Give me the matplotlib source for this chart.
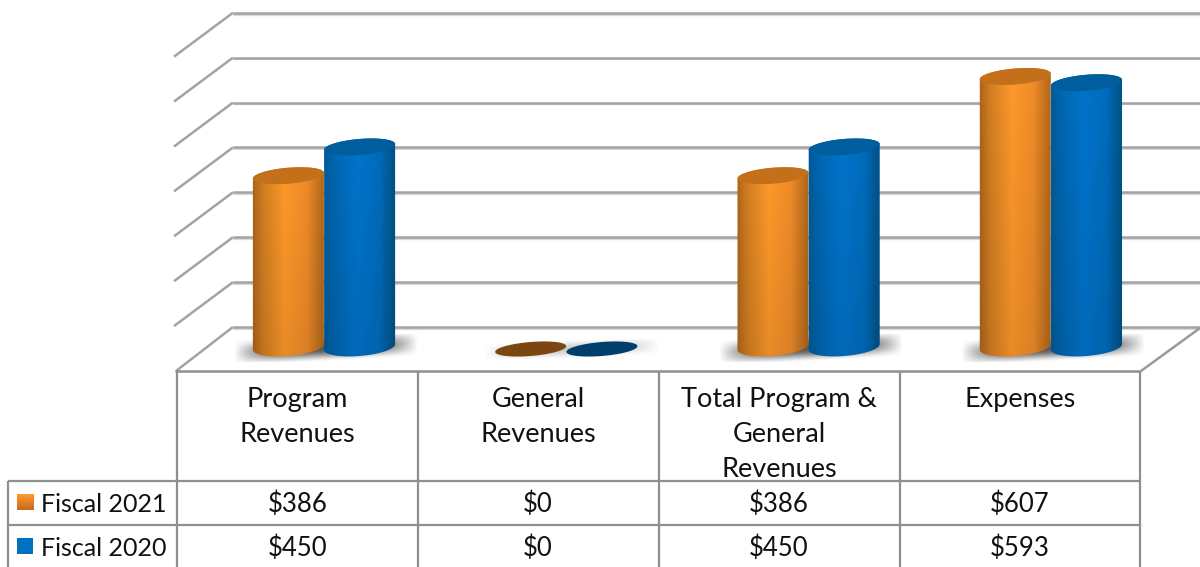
import matplotlib

matplotlib.use('Agg')

import matplotlib.pyplot as plt
import numpy as np
from matplotlib.colors import to_rgb
from matplotlib.patches import PathPatch, Polygon, Rectangle
from matplotlib.path import Path
from matplotlib.transforms import Affine2D, IdentityTransform

categories = ["Program\nRevenues", "General\nRevenues",
              "Total Program &\nGeneral\nRevenues", "Expenses"]
series_names = ["Fiscal 2021", "Fiscal 2020"]
fiscal_2021 = [386, 0, 386, 607]
fiscal_2020 = [450, 0, 450, 593]
table_2021 = ["$386", "$0", "$386", "$607"]
table_2020 = ["$450", "$0", "$450", "$593"]
grid_values = [0, 100, 200, 300, 400, 500, 600, 700]

W, H = 1200, 567
FONT = "Lato"
FS_HEAD = 19.5
FS_CELL = 18.5
FS_ROW = 18.0

fig = plt.figure(figsize=(W / 100, H / 100), dpi=100)
ax = fig.add_axes([0, 0, 1, 1])


def set_scales():
    # 0 sits at 349 px from the top, one category is 242.3 px wide
    ax.set_xlim(-324 / 242.3, (W - 324) / 242.3)
    ax.set_ylim((349 - H) / 0.449, 349 / 0.449)


set_scales()
ax.axis("off")

# y-down pixel coordinates for the frame, the table and the text
px = Affine2D().scale(1, -1).translate(0, H)
disp = IdentityTransform()


def line(xs, ys, color="#a3a3a3", lw=1.8, z=2):
    ax.plot(xs, ys, color=color, lw=lw, transform=px, solid_capstyle="butt",
            clip_on=False, zorder=z)


def ramp(stops, n=160):
    pos = [s[0] for s in stops]
    cols = np.array([to_rgb(s[1]) for s in stops])
    t = np.linspace(0, 1, n)
    return np.stack([np.interp(t, pos, cols[:, k]) for k in range(3)], axis=1)


ORANGE = [(0, "#ab6219"), (0.14, "#cf7d21"), (0.45, "#ff992a"),
          (0.75, "#f08c28"), (0.93, "#bf701f"), (1, "#ad6419")]
BLUE = [(0, "#005a98"), (0.16, "#0067b2"), (0.47, "#0074cc"),
        (0.78, "#006cbc"), (0.94, "#00578f"), (1, "#00528a")]
CAP = ["#c4701a", "#005e9e"]
FLAT = ["#7c4612", "#003f6c"]
RAMPS = [ramp(ORANGE), ramp(BLUE)]

A = 35.5      # half width of a cylinder, px
B_TOP = 8.0   # half height of the top ellipse, px
B_LOW = 9.0   # half height of the base ellipse, px
B_FLAT = 7.0  # half height of a cylinder with no height, px
SHEAR = 0.08


def ellipse(cx, cy, t, b):
    return np.c_[cx + A * np.cos(t), cy + b * np.sin(t) + SHEAR * A * np.cos(t)]


def shadow(cx, cy, w, h, strength):
    nx, ny = 160, 50
    gx, gy = np.meshgrid(np.linspace(-1, 1, nx), np.linspace(1, -1, ny))
    # the soft shadow rises slightly to the right, like the ellipses
    gy = gy - 0.35 * gx
    rgba = np.zeros((ny, nx, 4))
    rgba[..., :3] = 0.22
    fade_x = np.clip(1 - np.abs(gx) ** 3, 0, 1)
    fade_y = np.clip(1 - gy ** 2, 0, 1) ** 2
    rgba[..., 3] = strength * fade_x * fade_y
    im = ax.imshow(rgba, aspect="auto", zorder=3, interpolation="bilinear",
                   extent=(cx - w, cx + w, cy - h, cy + h))
    im.set_transform(disp)


def cylinder(cx, y0, y1, s):
    # y0 and y1 are display coords of the base and top centres
    low = ellipse(cx, y0, np.linspace(np.pi, 2 * np.pi, 60), B_LOW)
    up = ellipse(cx, y1, np.linspace(0, np.pi, 60), B_TOP)
    outline = np.r_[low, up, low[:1]]
    clip = PathPatch(Path(outline), transform=disp, facecolor="none", edgecolor="none")
    ax.add_patch(clip)
    body = RAMPS[s][None, :, :] * np.linspace(1, 0.91, 50)[:, None, None]
    im = ax.imshow(np.clip(body, 0, 1), aspect="auto", zorder=4 + s,
                   interpolation="bilinear",
                   extent=(cx - A - 1, cx + A + 1, y0 - B_LOW - 6, y1 + B_TOP + 6))
    im.set_transform(disp)
    im.set_clip_path(clip)
    top = ellipse(cx, y1, np.linspace(0, 2 * np.pi, 90), B_TOP)
    ax.add_patch(Polygon(top, closed=True, transform=disp, facecolor=CAP[s],
                         edgecolor="none", zorder=4.5 + s))


# gridlines on the back wall and the side wall
for v in grid_values:
    _, y = ax.transData.transform((0, v))
    y = H - y - 22
    line([233, W], [y + 1.8, y + 1.8], color="#d8d8d8", lw=1.6, z=1)
    line([233, W], [y, y])
    line([233, 176 if v == 0 else 174], [y, y + 44])

# floor front edge and right edge
line([175, 1141], [371, 371], color="#8f8f8f")
line([1141, W], [371, 328], color="#9a9a9a")

# cylinders
for i in range(len(categories)):
    pair = [fiscal_2021[i], fiscal_2020[i]]
    x_base, y_base = ax.transData.transform((i, 0))
    if max(pair) > 0:
        shadow(x_base + 2, y_base + 1, 92, 14, 0.85)
    else:
        shadow(x_base + 6, y_base, 88, 10, 0.25)
    for s, v in enumerate(pair):
        # the two cylinders stand side by side, one half width off the centre
        cx, y1 = ax.transData.transform((i + (s - 0.5) * 0.294, v))
        if v > 0:
            cylinder(cx, y_base + 2, y1, s)
        else:
            flat = ellipse(cx, y1, np.linspace(0, 2 * np.pi, 90), B_FLAT)
            ax.add_patch(Polygon(flat, closed=True, transform=disp,
                                 facecolor=FLAT[s], edgecolor="none", zorder=4 + s))

# data table
col_edges = [177, 417.5, 658.5, 899.5, 1140]
for x in col_edges:
    line([x, x], [371, H], color="#8f8f8f", lw=1.6)
for y in [481, 525]:
    line([8, 1140], [y, y], color="#8f8f8f", lw=1.6)
line([8, 8], [481, H], color="#8f8f8f", lw=1.6)

for i, name in enumerate(categories):
    xc = (col_edges[i] + col_edges[i + 1]) / 2
    ax.text(xc, 387, name, transform=px, ha="center", va="top", fontsize=FS_HEAD,
            family=FONT, linespacing=1.5, color="#111111")
    ax.text(xc, 504, table_2021[i], transform=px, ha="center", va="center",
            fontsize=FS_CELL, family=FONT, color="#111111")
    ax.text(xc, 548, table_2020[i], transform=px, ha="center", va="center",
            fontsize=FS_CELL, family=FONT, color="#111111")

ax.text(41, 504, series_names[0], transform=px, ha="left", va="center",
        fontsize=FS_ROW, family=FONT, color="#111111")
ax.text(41, 548, series_names[1], transform=px, ha="left", va="center",
        fontsize=FS_ROW, family=FONT, color="#111111")

# legend keys
c0 = np.array(to_rgb("#ff9a2e"))
c1 = np.array(to_rgb("#c46a1a"))
key = c0 + np.linspace(0, 1, 30)[:, None, None] * (c1 - c0)
im = ax.imshow(np.repeat(key, 4, axis=1), aspect="auto", zorder=6,
               extent=(17, 34, H - 510, H - 494))
im.set_transform(disp)
ax.add_patch(Rectangle((17, 538), 16, 16, transform=px, facecolor="#0070c0",
                       edgecolor="none", zorder=6))

set_scales()

fig.savefig("out.png", dpi=100, facecolor="white")
